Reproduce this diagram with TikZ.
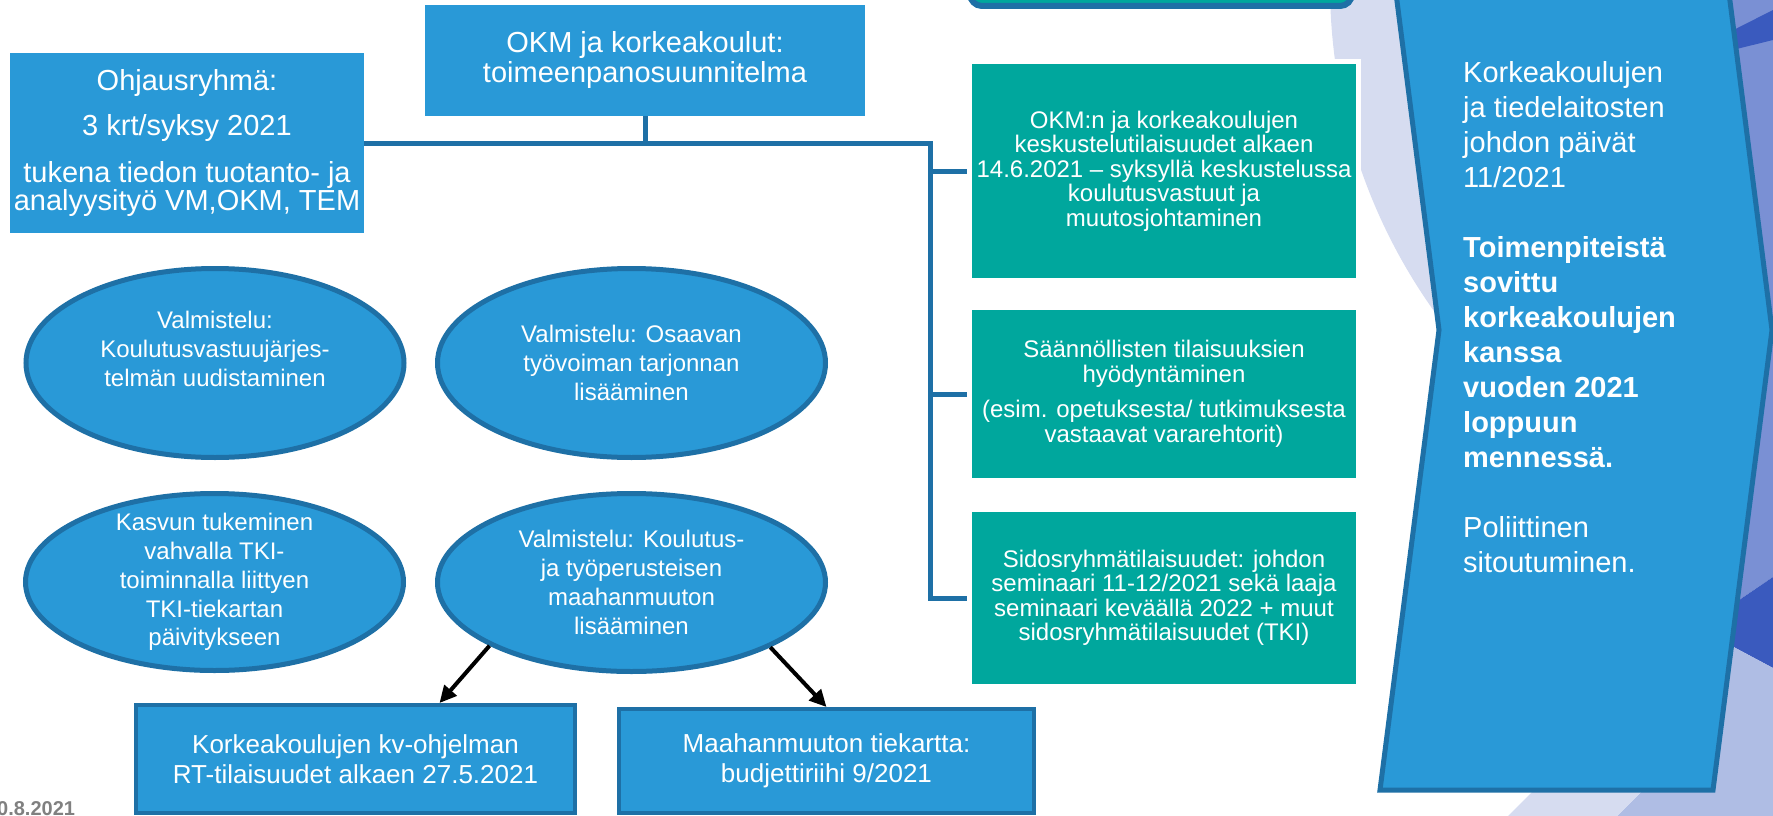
\documentclass[tikz,border=0pt]{standalone}
\usepackage{fontspec}
\setmainfont{Liberation Sans}
\usepackage{xcolor}
\usepackage{tikz}
\usetikzlibrary{positioning, arrows.meta, shapes.geometric}

\definecolor{boxblue}{RGB}{41,153,215}
\definecolor{lineblue}{RGB}{30,112,166}
\definecolor{tealbox}{RGB}{0,167,157}
\definecolor{palebg}{RGB}{214,220,240}
\definecolor{midbg}{RGB}{122,144,212}
\definecolor{darkbg}{RGB}{58,90,190}
\definecolor{lightbg}{RGB}{175,189,228}

\begin{document}
\begin{tikzpicture}[
    x=1pt, y=-1pt,
    bluebox/.style={
        rectangle,
        fill=boxblue,
        text=white,
        align=center,
        inner sep=0pt,
        font=\fontsize{29}{30}\selectfont
    },
    greenbox/.style={
        rectangle,
        fill=tealbox,
        draw=white,
        line width=5pt,
        text=white,
        align=center,
        minimum width=389pt,
        inner sep=0pt,
        font=\fontsize{24}{24.5}\selectfont
    },
    oval/.style={
        ellipse,
        fill=boxblue,
        draw=lineblue,
        line width=5pt,
        inner sep=0pt
    },
    ovaltext/.style={
        text=white,
        align=center,
        inner sep=0pt,
        font=\fontsize{24}{28.8}\selectfont
    },
    outbox/.style={
        rectangle,
        fill=boxblue,
        draw=lineblue,
        line width=4pt,
        text=white,
        align=center,
        inner sep=0pt,
        font=\fontsize{26}{30}\selectfont
    },
    link/.style={
        draw=lineblue,
        line width=5pt
    },
    arrow/.style={
        -{Triangle[length=17pt, width=16pt]},
        line width=4pt,
        color=black
    }
]

\useasboundingbox (0,0) rectangle (1773,816);
\clip (0,0) rectangle (1773,816);

% background
\fill[palebg] (1893,-15) circle[radius=563pt];
\fill[midbg] (1650,0) -- (1773,0) -- (1773,577) -- (1698,628) -- (1650,628) -- cycle;
\fill[darkbg] (1700,47) -- (1773,10) -- (1773,40) -- (1700,58) -- cycle;
\fill[darkbg] (1698,628) -- (1773,577) -- (1773,668) -- cycle;
\fill[lightbg] (1698,628) -- (1773,668) -- (1773,816) -- (1617,816) -- (1698,735) -- cycle;
\fill[palebg] (1508,816) -- (1600,724) -- (1709,724) -- (1617,816) -- cycle;

\draw[fill=boxblue, draw=lineblue, line width=5pt]
    (1380,-132) -- (1713,-132) -- (1772,330) -- (1713,790) -- (1380,790) -- (1439,330) -- cycle;
\node[anchor=north west, text=white, align=left, inner sep=0pt, font=\fontsize{29}{35}\selectfont] (johto) at (1463,61) {
    Korkeakoulujen\\ ja tiedelaitosten\\ johdon päivät\\ 11/2021\\[35pt]
    \textbf{Toimenpiteistä}\\ \textbf{sovittu}\\ \textbf{korkeakoulujen}\\ \textbf{kanssa}\\
    \textbf{vuoden 2021}\\ \textbf{loppuun}\\ \textbf{mennessä.}\\[35pt]
    Poliittinen\\ sitoutuminen.
};

\node[rectangle, rounded corners=12pt, fill=tealbox, draw=lineblue, line width=6pt,
    minimum width=382pt, minimum height=100pt] (ylin) at (1161,-44) {};

\node[bluebox, minimum width=354pt, minimum height=180pt, font=\fontsize{29}{26}\selectfont] (ohjaus) at (187,143) {
    Ohjausryhmä:\\[17pt] 3 krt/syksy 2021\\[19pt] tukena tiedon tuotanto- ja\\ analyysityö VM,OKM, TEM
};
\node[bluebox, minimum width=440pt, minimum height=111pt] (okm) at (645,60.5) {
    OKM ja korkeakoulut:\\ toimeenpanosuunnitelma
};

\node[greenbox, minimum height=219pt] (g1) at (1164,171) {
    OKM:n ja korkeakoulujen\\ keskustelutilaisuudet alkaen\\ 14.6.2021 – syksyllä keskustelussa\\ koulutusvastuut ja\\ muutosjohtaminen
};
\node[greenbox, minimum height=173pt] (g2) at (1164,394) {
    Säännöllisten tilaisuuksien\\ hyödyntäminen\\[11pt] (esim. opetuksesta/ tutkimuksesta\\ vastaavat vararehtorit)
};
\node[greenbox, minimum height=177pt] (g3) at (1164,598) {
    Sidosryhmätilaisuudet: johdon\\ seminaari 11-12/2021 sekä laaja\\ seminaari keväällä 2022 + muut\\ sidosryhmätilaisuudet (TKI)
};

\coordinate (trunk) at (930,143);
\draw[link] (ohjaus.east) -- (trunk) |- (g3.west);
\draw[link] (okm.south) -- (okm.south |- trunk);
\foreach \g in {g1,g2} {
    \draw[link] (trunk |- \g.west) -- (\g.west);
}

\node[oval, minimum width=378pt, minimum height=189pt] (prep1) at (215,363) {};
\node[ovaltext] (prep1txt) at ([yshift=14pt]prep1.center) {Valmistelu:\\ Koulutusvastuujärjes-\\ telmän uudistaminen};
\node[oval, minimum width=388pt, minimum height=189pt] (prep2) at (631.5,363) {};
\node[ovaltext] (prep2txt) at (prep2) {Valmistelu: Osaavan\\ työvoiman tarjonnan\\ lisääminen};
\node[oval, minimum width=378pt, minimum height=177pt] (tki) at (214.5,582) {};
\node[ovaltext] (tkitxt) at (tki) {Kasvun tukeminen\\ vahvalla TKI-\\ toiminnalla liittyen\\ TKI-tiekartan\\ päivitykseen};
\node[oval, minimum width=388pt, minimum height=178pt] (prep3) at (631.5,582.5) {};
\node[ovaltext] (prep3txt) at (prep3) {Valmistelu: Koulutus-\\ ja työperusteisen\\ maahanmuuton\\ lisääminen};

\node[outbox, minimum width=439pt, minimum height=108pt] (kvohj) at (355.5,759) {
    Korkeakoulujen kv-ohjelman\\ RT-tilaisuudet alkaen 27.5.2021
};
\node[outbox, minimum width=415pt, minimum height=104pt] (tiekartta) at (826.5,761) {
    Maahanmuuton tiekartta:\\ budjettiriihi 9/2021
};

\draw[arrow] (prep3.204.6) -- ([xshift=84pt]kvohj.north);
\draw[arrow] (prep3.335) -- (tiekartta.north);

\node[anchor=base west, inner sep=0pt, text=gray, font=\bfseries\fontsize{20}{24}\selectfont] (datum) at (-3,815) {0.8.2021};

\end{tikzpicture}
\end{document}
